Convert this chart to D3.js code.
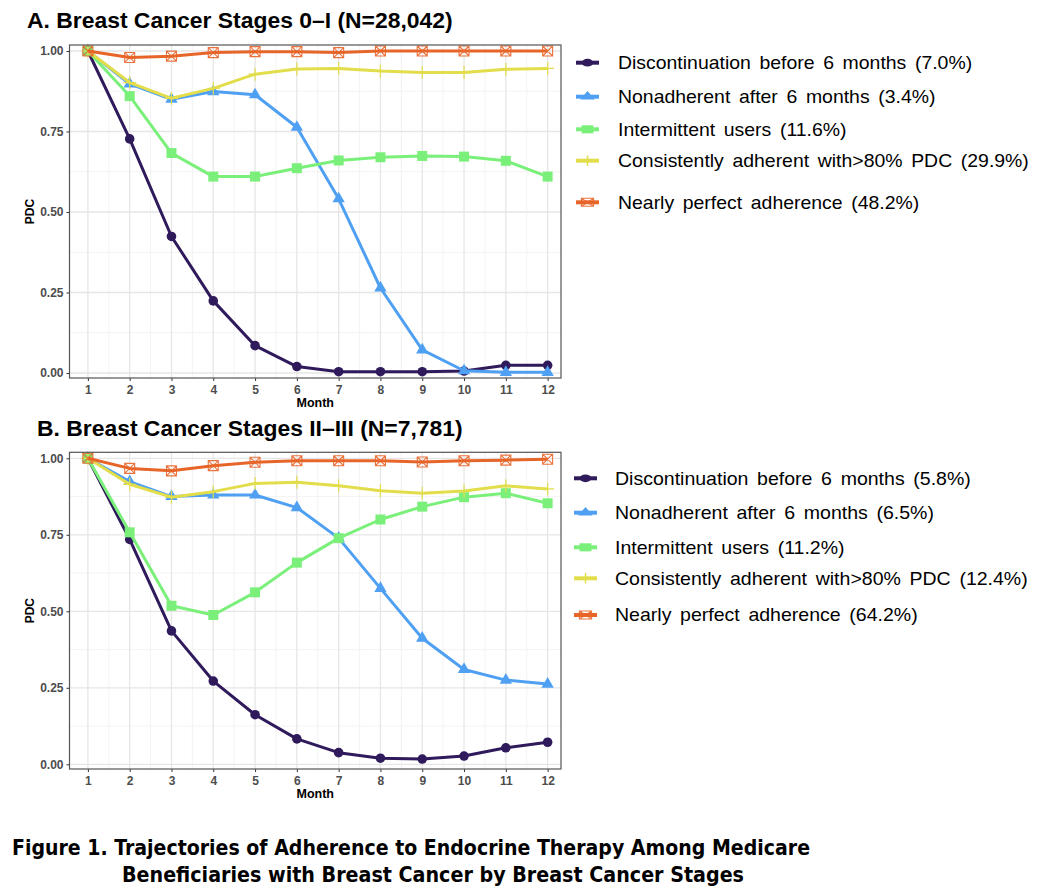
<!DOCTYPE html>
<html>
<head>
<meta charset="utf-8">
<script src="https://cdn.jsdelivr.net/npm/d3@7"></script>
<style>
  html, body { margin: 0; padding: 0; background: #fff; }
  svg { display: block; }
</style>
</head>
<body>
<svg id="chart" width="1046" height="896"></svg>
<script>
// ---------------- DATA ----------------
const months = [1, 2, 3, 4, 5, 6, 7, 8, 9, 10, 11, 12];
const seriesNames = [
  "Discontinuation before 6 months",
  "Nonadherent after 6 months",
  "Intermittent users",
  "Consistently adherent with>80% PDC",
  "Nearly perfect adherence"
];
const yTicks = [0, 0.25, 0.5, 0.75, 1];
const yTickLabels = ["0.00", "0.25", "0.50", "0.75", "1.00"];

const titleA = "A. Breast Cancer Stages 0\u2013I (N=28,042)";
const pctA = ["7.0%", "3.4%", "11.6%", "29.9%", "48.2%"];
const discontA   = [1.00, 0.727, 0.424, 0.224, 0.085, 0.020, 0.004, 0.004, 0.004, 0.006, 0.024, 0.024];
const nonadhA    = [1.00, 0.898, 0.850, 0.874, 0.864, 0.763, 0.541, 0.264, 0.072, 0.007, 0.002, 0.002];
const intermA    = [1.00, 0.860, 0.683, 0.610, 0.610, 0.636, 0.660, 0.670, 0.674, 0.672, 0.659, 0.610];
const consistA   = [1.00, 0.902, 0.853, 0.884, 0.928, 0.944, 0.946, 0.938, 0.933, 0.933, 0.943, 0.946];
const perfectA   = [1.00, 0.980, 0.984, 0.995, 0.998, 0.998, 0.995, 1.000, 1.000, 1.000, 1.000, 1.000];

const titleB = "B. Breast Cancer Stages II\u2013III (N=7,781)";
const pctB = ["5.8%", "6.5%", "11.2%", "12.4%", "64.2%"];
const discontB   = [1.00, 0.735, 0.436, 0.272, 0.162, 0.083, 0.038, 0.020, 0.017, 0.027, 0.054, 0.072];
const nonadhB    = [1.00, 0.924, 0.875, 0.880, 0.880, 0.839, 0.739, 0.575, 0.412, 0.310, 0.275, 0.262];
const intermB    = [1.00, 0.758, 0.518, 0.488, 0.562, 0.659, 0.739, 0.800, 0.842, 0.873, 0.886, 0.853];
const consistB   = [1.00, 0.915, 0.873, 0.891, 0.918, 0.922, 0.910, 0.894, 0.886, 0.893, 0.910, 0.900];
const perfectB   = [1.00, 0.967, 0.959, 0.976, 0.987, 0.992, 0.992, 0.992, 0.988, 0.992, 0.994, 0.997];

const captionLines = [
  "Figure 1. Trajectories of Adherence to Endocrine Therapy Among Medicare",
  "Beneficiaries with Breast Cancer by Breast Cancer Stages"
];

// ---------------- STYLE ----------------
const colors = ["#2F1A5B", "#4FA0F3", "#7AF07A", "#E2DD4B", "#E8652A"];
const shapes = ["circle", "triangle", "square", "plus", "squarex"];

const svg = d3.select("#chart");

function drawMarker(g, shape, color, scale) {
  const s = scale || 1;
  if (shape === "circle") {
    g.append("path").attr("d", d3.symbol(d3.symbolCircle, 72 * s * s)()).attr("fill", color);
  } else if (shape === "triangle") {
    g.append("path").attr("d", d3.symbol(d3.symbolTriangle, 66 * s * s)()).attr("fill", color);
  } else if (shape === "square") {
    g.append("path").attr("d", d3.symbol(d3.symbolSquare, 100 * s * s)()).attr("fill", color);
  } else if (shape === "plus") {
    const h = 6.5 * s;
    g.append("path").attr("d", `M${-h},0H${h}M0,${-h}V${h}`)
      .attr("stroke", color).attr("stroke-width", 1.2).attr("fill", "none");
  } else if (shape === "squarex") {
    const h = 5 * s;
    g.append("path")
      .attr("d", `M${-h},${-h}H${h}V${h}H${-h}Z M${-h},${-h}L${h},${h} M${h},${-h}L${-h},${h}`)
      .attr("stroke", color).attr("stroke-width", 1.1).attr("fill", "none").attr("opacity", 0.9);
  }
}

function drawPanel(cfg) {
  const { title, titleX, titleY, series, pcts, box, yDomain, legend } = cfg;
  const g = svg.append("g");

  g.append("text").attr("x", titleX).attr("y", titleY)
    .attr("font-family", "Liberation Sans, Arial, sans-serif")
    .attr("font-weight", "bold").attr("font-size", 22.9).attr("fill", "#000")
    .text(title);

  const x = d3.scaleLinear().domain([0.56, 12.32]).range([box.x0, box.x1]);
  const y = d3.scaleLinear().domain(yDomain).range([box.y1, box.y0]);

  // grid
  const grid = g.append("g");
  const minorX = d3.range(1.5, 12, 1);
  const minorY = [0.125, 0.375, 0.625, 0.875];
  grid.selectAll(".mx").data(minorX).join("line")
    .attr("x1", d => x(d)).attr("x2", d => x(d)).attr("y1", box.y0).attr("y2", box.y1)
    .attr("stroke", "#f0f0f0").attr("stroke-width", 0.8);
  grid.selectAll(".my").data(minorY).join("line")
    .attr("y1", d => y(d)).attr("y2", d => y(d)).attr("x1", box.x0).attr("x2", box.x1)
    .attr("stroke", "#f0f0f0").attr("stroke-width", 0.8);
  grid.selectAll(".Mx").data(months).join("line")
    .attr("x1", d => x(d)).attr("x2", d => x(d)).attr("y1", box.y0).attr("y2", box.y1)
    .attr("stroke", "#e6e6e6").attr("stroke-width", 1.3);
  grid.selectAll(".My").data(yTicks).join("line")
    .attr("y1", d => y(d)).attr("y2", d => y(d)).attr("x1", box.x0).attr("x2", box.x1)
    .attr("stroke", "#e6e6e6").attr("stroke-width", 1.3);

  // axes
  const ax = g.append("g").attr("transform", `translate(0,${box.y1})`)
    .call(d3.axisBottom(x).tickValues(months).tickFormat(d3.format("d")).tickSize(3).tickPadding(4));
  const ay = g.append("g").attr("transform", `translate(${box.x0},0)`)
    .call(d3.axisLeft(y).tickValues(yTicks).tickFormat((d, i) => yTickLabels[i]).tickSize(3).tickPadding(3));
  [ax, ay].forEach(a => {
    a.select(".domain").remove();
    a.selectAll(".tick line").attr("stroke", "#333");
    a.selectAll("text").attr("font-family", "Liberation Sans, Arial, sans-serif")
      .attr("font-weight", "bold").attr("font-size", 12).attr("fill", "#4d4d4d");
  });

  // axis titles
  g.append("text").attr("x", (box.x0 + box.x1) / 2).attr("y", box.y1 + 29)
    .attr("text-anchor", "middle").attr("font-family", "Liberation Sans, Arial, sans-serif")
    .attr("font-weight", "bold").attr("font-size", 12.5).attr("fill", "#000").text("Month");
  g.append("text")
    .attr("transform", `translate(34,${(box.y0 + box.y1) / 2}) rotate(-90)`)
    .attr("text-anchor", "middle").attr("font-family", "Liberation Sans, Arial, sans-serif")
    .attr("font-weight", "bold").attr("font-size", 12).attr("fill", "#000").text("PDC");

  // lines & markers
  const line = d3.line().x((d, i) => x(months[i])).y(d => y(d));
  series.forEach((vals, si) => {
    const sg = g.append("g");
    sg.append("path").attr("d", line(vals)).attr("fill", "none")
      .attr("stroke", colors[si]).attr("stroke-width", 3).attr("stroke-linejoin", "round");
    vals.forEach((v, i) => {
      const mg = sg.append("g").attr("transform", `translate(${x(months[i])},${y(v)})`);
      drawMarker(mg, shapes[si], colors[si], 1);
    });
  });

  // panel border
  g.append("rect").attr("x", box.x0).attr("y", box.y0)
    .attr("width", box.x1 - box.x0).attr("height", box.y1 - box.y0)
    .attr("fill", "none").attr("stroke", "#555").attr("stroke-width", 1.2);

  // legend
  seriesNames.forEach((name, si) => {
    const ry = legend.rows[si];
    const lg = g.append("g");
    lg.append("line").attr("x1", legend.keyX0).attr("x2", legend.keyX1)
      .attr("y1", ry).attr("y2", ry).attr("stroke", colors[si]).attr("stroke-width", 4);
    const mg = lg.append("g")
      .attr("transform", `translate(${(legend.keyX0 + legend.keyX1) / 2},${ry}) scale(1.25,0.85)`);
    drawMarker(mg, shapes[si], colors[si], 0.95);
    lg.append("text")
      .attr("transform", `translate(${legend.textX},${ry}) scale(${legend.stretch},1)`)
      .attr("dominant-baseline", "central")
      .attr("font-family", "Liberation Sans, Arial, sans-serif")
      .attr("font-size", legend.fontSize).attr("word-spacing", legend.wordSpacing)
      .attr("fill", "#000")
      .text(`${name} (${pcts[si]})`);
  });
}

drawPanel({
  title: titleA, titleX: 27, titleY: 28,
  series: [discontA, nonadhA, intermA, consistA, perfectA], pcts: pctA,
  box: { x0: 69.5, x1: 561, y0: 45, y1: 378 },
  yDomain: [-0.0155, 1.0186],
  legend: { rows: [62.7, 96.7, 129.3, 160.7, 202.3], keyX0: 576, keyX1: 599, textX: 618,
            fontSize: 18, wordSpacing: 3, stretch: 1.08 }
});

drawPanel({
  title: titleB, titleX: 37, titleY: 436,
  series: [discontB, nonadhB, intermB, consistB, perfectB], pcts: pctB,
  box: { x0: 69.5, x1: 561, y0: 452.3, y1: 769 },
  yDomain: [-0.0154, 1.0196],
  legend: { rows: [478.3, 512.7, 547.3, 578.3, 615], keyX0: 574, keyX1: 597, textX: 615,
            fontSize: 18, wordSpacing: 3, stretch: 1.085 }
});

// caption
const capStarts = [12, 122], capEnds = [810, 744], capY = [855, 882];
captionLines.forEach((t, i) => {
  svg.append("text").attr("x", capStarts[i]).attr("y", capY[i])
    .attr("font-family", "DejaVu Sans Condensed, DejaVu Sans, sans-serif")
    .attr("font-stretch", "condensed")
    .attr("font-weight", "bold").attr("font-size", 21.5).attr("fill", "#000")
    .attr("textLength", capEnds[i] - capStarts[i]).attr("lengthAdjust", "spacingAndGlyphs")
    .text(t);
});
</script>
</body>
</html>
